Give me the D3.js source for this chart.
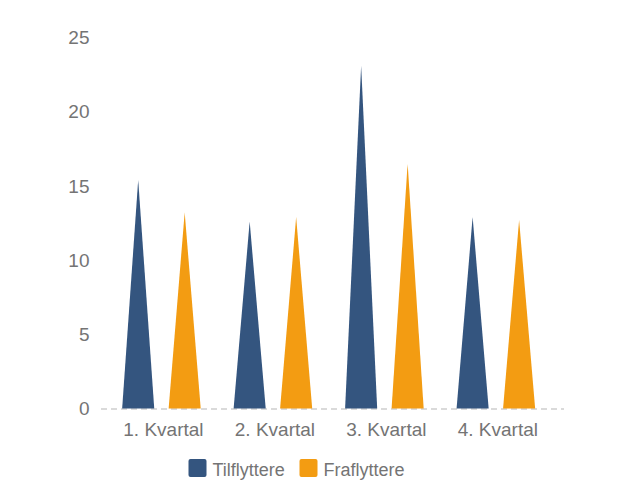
<!DOCTYPE html>
<html>
<head>
<meta charset="utf-8">
<script src="https://cdn.jsdelivr.net/npm/d3@7"></script>
<style>
  body { margin: 0; background: #fff; }
  text { font-family: "Liberation Sans", Arial, sans-serif; fill: #747474; }
</style>
</head>
<body>
<div id="chart"></div>
<script>
// Data
const quarters = ["1. Kvartal", "2. Kvartal", "3. Kvartal", "4. Kvartal"];
const seriesNames = ["Tilflyttere", "Fraflyttere"];
const tilflyttere = [15.4, 12.6, 23.1, 12.9];
const fraflyttere = [13.2, 12.9, 16.5, 12.7];
const yTicks = [0, 5, 10, 15, 20, 25];
const colors = ["#34557f", "#f39c12"];

const width = 636, height = 502;

const svg = d3.select("#chart")
    .append("svg")
    .attr("width", width)
    .attr("height", height);

const x = d3.scaleBand()
    .domain(quarters)
    .range([105.7, 551.6]);

const xInner = d3.scaleBand()
    .domain(seriesNames)
    .range([0, x.bandwidth()])
    .paddingInner(0.31)
    .paddingOuter(0.354);

const y = d3.scaleLinear()
    .domain([0, 25])
    .range([408.5, 37.5]);

// Y axis labels
svg.append("g")
   .selectAll("text")
   .data(yTicks)
   .join("text")
   .attr("x", 89.5)
   .attr("y", d => y(d))
   .attr("dy", "0.35em")
   .attr("text-anchor", "end")
   .style("font-size", "19px")
   .text(d => d);

// Baseline
svg.append("line")
   .attr("x1", 101)
   .attr("x2", 564)
   .attr("y1", 409)
   .attr("y2", 409)
   .attr("stroke", "#b5b5b5")
   .attr("stroke-width", 1)
   .attr("stroke-dasharray", "6,4");

// Triangle bars
const rows = [];
quarters.forEach((q, i) => {
    rows.push({ q: q, s: seriesNames[0], v: tilflyttere[i], c: colors[0] });
    rows.push({ q: q, s: seriesNames[1], v: fraflyttere[i], c: colors[1] });
});

svg.append("g")
   .selectAll("path")
   .data(rows)
   .join("path")
   .attr("fill", d => d.c)
   .attr("d", d => {
       const x0 = x(d.q) + xInner(d.s);
       const x1 = x0 + xInner.bandwidth();
       const xm = (x0 + x1) / 2;
       return `M${x0},${y(0)}L${xm},${y(d.v)}L${x1},${y(0)}Z`;
   });

// X axis labels
svg.append("g")
   .selectAll("text")
   .data(quarters)
   .join("text")
   .attr("x", d => x(d) + x.bandwidth() / 2 + 2)
   .attr("y", 436)
   .attr("text-anchor", "middle")
   .style("font-size", "19px")
   .text(d => d);

// Legend
const legend = svg.append("g");
const legendX = [188.5, 299.5];
seriesNames.forEach((s, i) => {
    legend.append("rect")
          .attr("x", legendX[i])
          .attr("y", 459)
          .attr("width", 18)
          .attr("height", 18)
          .attr("rx", 2)
          .attr("fill", colors[i]);
    legend.append("text")
          .attr("x", legendX[i] + 24)
          .attr("y", 476)
          .style("font-size", "18px")
          .text(s);
});
</script>
</body>
</html>
